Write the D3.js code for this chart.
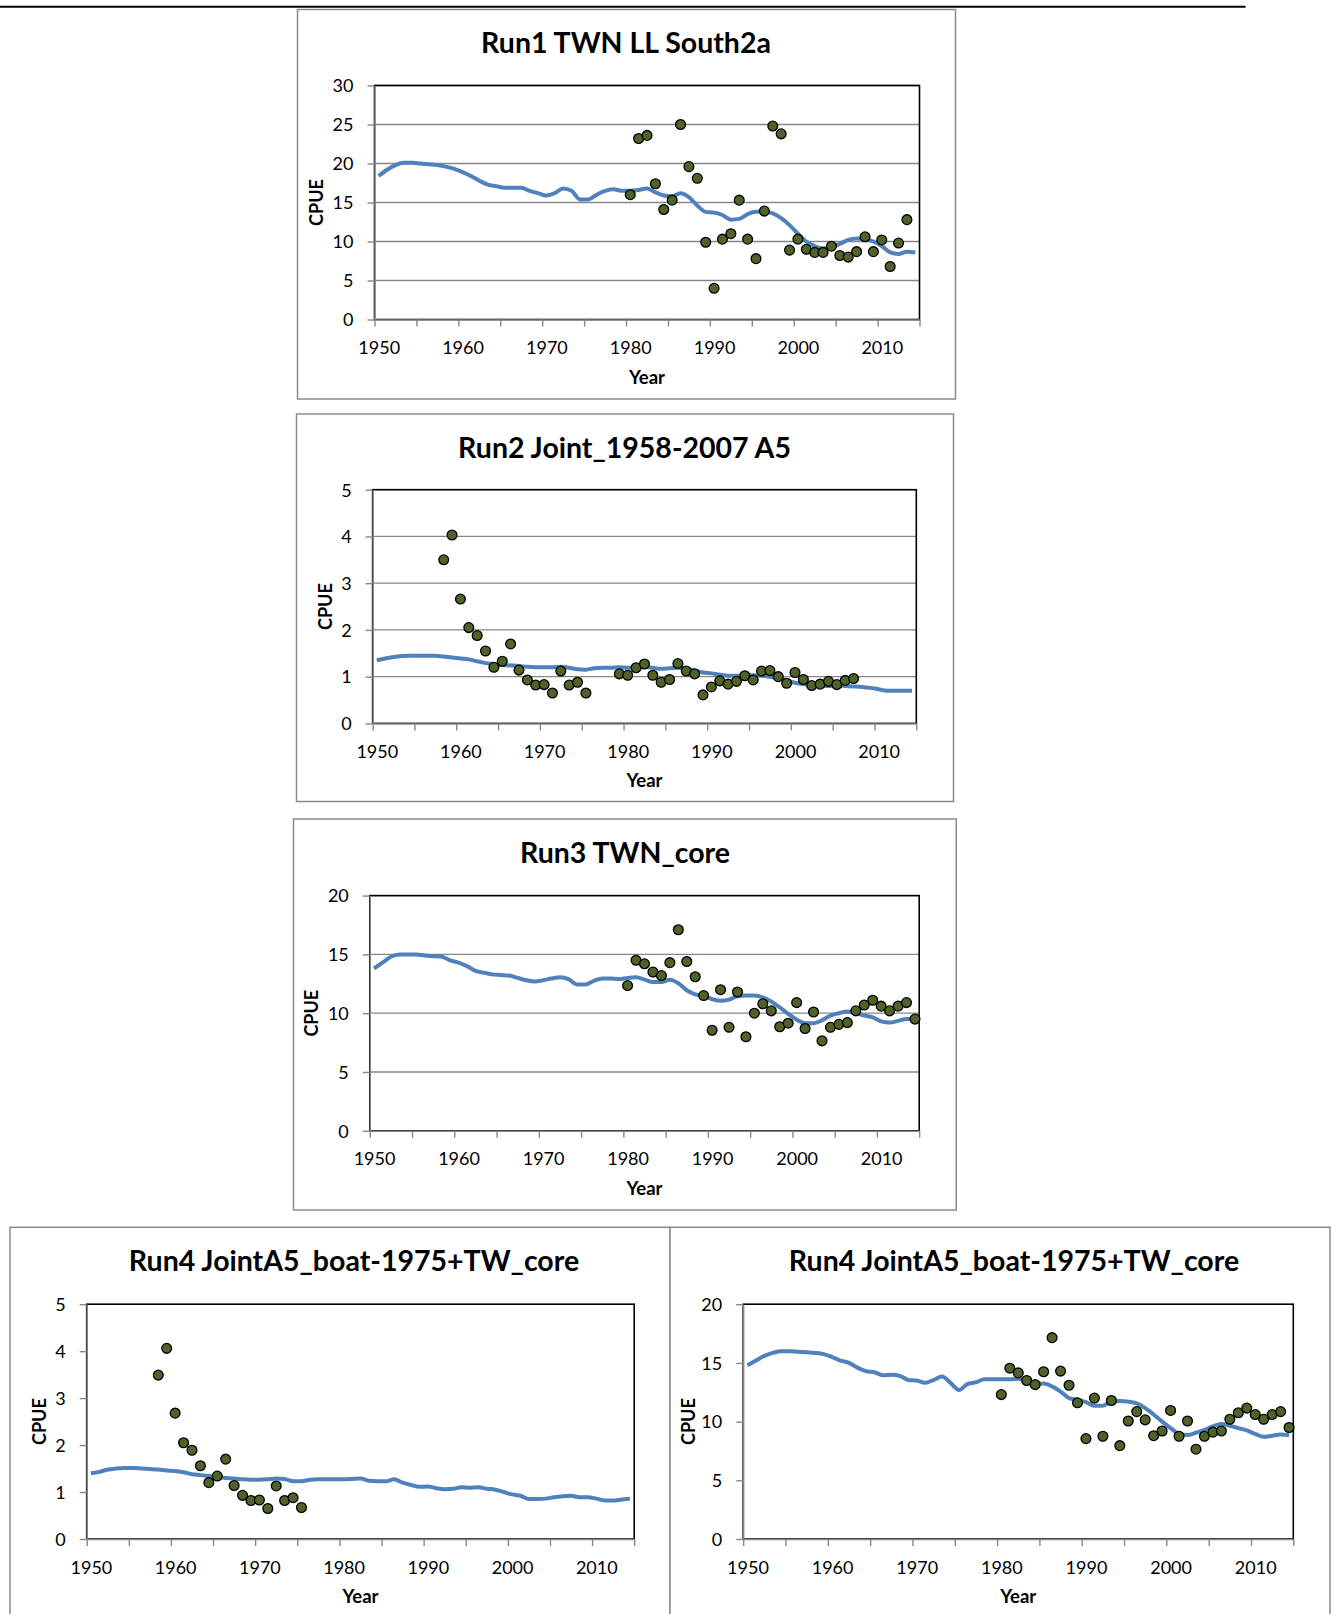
<!DOCTYPE html>
<html>
<head>
<meta charset="utf-8">
<script src="https://cdn.jsdelivr.net/npm/d3@7/dist/d3.min.js"></script>
<style>
  body { margin: 0; background: #fff; }
  svg { display: block; }
  text { font-family: Lato, "Open Sans", "DejaVu Sans", sans-serif; fill: #000; }
</style>
</head>
<body>
<div id="chart"></div>
<script>
// categories: one per year, labels every ten years
const years = d3.range(1950, 2015);
const labelYears = [1950, 1960, 1970, 1980, 1990, 2000, 2010];

// Run1 TWN LL South2a
const run1Fit = [
  18.4, 19.2, 19.8, 20.1, 20.1, 20.0, 19.9, 19.8, 19.6, 19.3,
  18.9, 18.4, 17.8, 17.3, 17.1, 16.9, 16.9, 16.9, 16.5, 16.2,
  15.9, 16.2, 16.8, 16.5, 15.4, 15.4, 16.0, 16.5, 16.7, 16.5,
  16.5, 16.6, 16.8, 16.3, 15.9, 15.8, 16.2, 15.7, 14.6, 13.8,
  13.7, 13.4, 12.8, 12.9, 13.5, 13.8, 13.8, 13.6, 13.0, 12.1,
  11.0, 10.0, 9.4, 9.1, 9.3, 9.7, 10.2, 10.4, 10.3, 10.0,
  9.4, 8.6, 8.4, 8.7, 8.6
];
const run1ObsFrom = 1980;
const run1Obs = [
  16.0, 23.2, 23.6, 17.4, 14.1, 15.3, 25.0, 19.6, 18.1, 9.9,
  4.0, 10.3, 11.0, 15.3, 10.3, 7.8, 13.9, 24.8, 23.8, 8.9,
  10.3, 9.0, 8.6, 8.6, 9.4, 8.2, 8.0, 8.7, 10.6, 8.7,
  10.2, 6.8, 9.8, 12.8
];

// Run2 Joint_1958-2007 A5
const run2Fit = [
  1.35, 1.39, 1.42, 1.44, 1.45, 1.45, 1.45, 1.45, 1.43, 1.41,
  1.39, 1.37, 1.33, 1.29, 1.27, 1.25, 1.24, 1.23, 1.21, 1.20,
  1.20, 1.20, 1.21, 1.19, 1.16, 1.15, 1.18, 1.19, 1.19, 1.20,
  1.19, 1.19, 1.21, 1.19, 1.17, 1.18, 1.19, 1.17, 1.13, 1.09,
  1.07, 1.04, 1.02, 1.02, 1.03, 1.03, 1.02, 1.00, 0.97, 0.92,
  0.87, 0.84, 0.81, 0.80, 0.80, 0.81, 0.80, 0.79, 0.78, 0.76,
  0.73, 0.70, 0.70, 0.70, 0.70
];
const jointObsFrom = 1958;
const jointObs = [
  3.50, 4.03, 2.66, 2.05, 1.88, 1.55, 1.20, 1.33, 1.70, 1.14,
  0.93, 0.82, 0.83, 0.65, 1.12, 0.82, 0.88, 0.65, null, null,
  null, 1.06, 1.03, 1.19, 1.27, 1.03, 0.88, 0.94, 1.28, 1.12,
  1.06, 0.61, 0.78, 0.91, 0.84, 0.90, 1.02, 0.93, 1.12, 1.13,
  1.00, 0.86, 1.09, 0.94, 0.81, 0.84, 0.90, 0.83, 0.92, 0.96
];

// Run3 TWN_core
const run3Fit = [
  13.8, 14.3, 14.8, 15.0, 15.0, 15.0, 14.9, 14.85, 14.8, 14.5,
  14.3, 14.0, 13.6, 13.45, 13.3, 13.25, 13.2, 13.0, 12.8, 12.7,
  12.8, 12.95, 13.05, 12.9, 12.45, 12.45, 12.75, 12.95, 12.95, 12.9,
  13.0, 13.05, 12.85, 12.65, 12.65, 12.85, 12.55, 11.95, 11.6, 11.45,
  11.2, 11.05, 11.15, 11.45, 11.5, 11.5, 11.35, 11.0, 10.5, 9.95,
  9.45, 9.15, 9.15, 9.4, 9.8, 10.0, 10.15, 10.0, 9.8, 9.65,
  9.3, 9.2, 9.35, 9.5, 9.5
];
const coreObsFrom = 1980;
const coreObs = [
  12.35, 14.5, 14.2, 13.5, 13.2, 14.3, 17.1, 14.4, 13.1, 11.5,
  8.55, 12.0, 8.8, 11.8, 8.0, 10.0, 10.8, 10.2, 8.85, 9.15,
  10.9, 8.7, 10.1, 7.65, 8.8, 9.05, 9.2, 10.2, 10.7, 11.1,
  10.6, 10.2, 10.6, 10.9, 9.5
];

// Run4 JointA5_boat-1975+TW_core (two indices)
const run4aFit = [
  1.40, 1.43, 1.48, 1.50, 1.51, 1.51, 1.50, 1.49, 1.48, 1.46,
  1.45, 1.42, 1.38, 1.36, 1.34, 1.32, 1.30, 1.29, 1.27, 1.26,
  1.26, 1.27, 1.29, 1.28, 1.23, 1.23, 1.26, 1.27, 1.27, 1.27,
  1.27, 1.28, 1.29, 1.24, 1.23, 1.23, 1.27, 1.20, 1.15, 1.11,
  1.12, 1.08, 1.06, 1.07, 1.10, 1.09, 1.10, 1.07, 1.05, 1.00,
  0.95, 0.92, 0.85, 0.85, 0.86, 0.89, 0.91, 0.92, 0.89, 0.89,
  0.86, 0.82, 0.82, 0.84, 0.86
];
const boatObsFrom = 1958;
const boatObs = [
  3.49, 4.06, 2.68, 2.05, 1.89, 1.56, 1.20, 1.34, 1.70, 1.14,
  0.93, 0.82, 0.83, 0.65, 1.13, 0.82, 0.88, 0.67
];
const run4bFit = [
  14.8, 15.2, 15.6, 15.85, 16.0, 16.0, 15.95, 15.9, 15.85, 15.75,
  15.5, 15.2, 15.0, 14.6, 14.3, 14.2, 13.95, 14.0, 13.9, 13.55,
  13.5, 13.3, 13.55, 13.85, 13.3, 12.7, 13.2, 13.35, 13.6, 13.6,
  13.6, 13.6, 13.65, 13.4, 13.2, 13.25, 13.0, 12.55, 12.0, 11.85,
  11.65, 11.35, 11.35, 11.7, 11.75, 11.7, 11.55, 11.15, 10.6, 10.0,
  9.45, 8.95, 8.85, 9.05, 9.3, 9.6, 9.8, 9.65, 9.45, 9.25,
  8.95, 8.7, 8.8, 8.9, 8.85
];
const run4bObsFrom = 1980;
const run4bObs = [
  12.3, 14.55, 14.15, 13.5, 13.15, 14.25, 17.15, 14.3, 13.1, 11.6,
  8.55, 12.0, 8.75, 11.8, 7.95, 10.05, 10.85, 10.15, 8.8, 9.2,
  10.95, 8.75, 10.05, 7.65, 8.75, 9.1, 9.2, 10.2, 10.75, 11.15,
  10.6, 10.2, 10.6, 10.85, 9.5
];

const W = 1337;
const H = 1614;
const lineColor = '#4f81bd';
const dotFill = '#4f6228';
const greyLine = '#878787';

// layout of each chart box: frame, plot area, title position
const panels = [
  {
    title: 'Run1 TWN LL South2a', fit: run1Fit, obs: run1Obs, obsFrom: run1ObsFrom,
    yMax: 30, yStep: 5, grid: true,
    frame: [297.5, 9.5, 955.5, 399], plot: [374.5, 85.5, 919.5, 319.5], titleX: 626, cpueDx: -58,
  },
  {
    title: 'Run2 Joint_1958-2007 A5', fit: run2Fit, obs: jointObs, obsFrom: jointObsFrom,
    yMax: 5, yStep: 1, grid: true,
    frame: [296.5, 414, 953.5, 801.5], plot: [372.6, 489.7, 916.3, 723.4], titleX: 624.5, cpueDx: -47,
  },
  {
    title: 'Run3 TWN_core', fit: run3Fit, obs: coreObs, obsFrom: coreObsFrom,
    yMax: 20, yStep: 5, grid: true,
    frame: [293.5, 819, 956.3, 1210], plot: [369.8, 895.6, 919.2, 1130.8], titleX: 625, cpueDx: -58,
  },
  {
    title: 'Run4 JointA5_boat-1975+TW_core', fit: run4aFit, obs: boatObs, obsFrom: boatObsFrom,
    yMax: 5, yStep: 1, grid: false,
    frame: [10, 1227.3, 670, 1630], plot: [86.7, 1304.2, 634.2, 1539], titleX: 354, cpueDx: -47,
  },
  {
    title: 'Run4 JointA5_boat-1975+TW_core', fit: run4bFit, obs: run4bObs, obsFrom: run4bObsFrom,
    yMax: 20, yStep: 5, grid: false,
    frame: [670, 1227.3, 1330, 1630], plot: [743.2, 1304.2, 1293.3, 1539], titleX: 1014, cpueDx: -55,
  },
];

const svg = d3.select('#chart').append('svg')
  .attr('width', W)
  .attr('height', H);

// rule across the top of the page
svg.append('line')
  .attr('x1', 0).attr('x2', 1245.5)
  .attr('y1', 6.7).attr('y2', 6.7)
  .style('stroke', '#000')
  .style('stroke-width', 2);

function drawPanel(p) {
  const [fx0, fy0, fx1, fy1] = p.frame;
  const [left, top, right, bottom] = p.plot;
  const g = svg.append('g');

  g.append('rect')
    .attr('x', fx0).attr('y', fy0)
    .attr('width', fx1 - fx0).attr('height', fy1 - fy0)
    .style('fill', '#fff')
    .style('stroke', '#8c8c8c')
    .style('stroke-width', 1.5);

  g.append('text')
    .text(p.title)
    .attr('x', p.titleX)
    .attr('y', fy0 + 43.5)
    .attr('text-anchor', 'middle')
    .style('font-size', '28.5px')
    .style('font-weight', 'bold');

  // categories centred on each year, ticks between every fifth year
  const x = d3.scaleLinear().domain([1949.5, 2014.5]).range([left, right]);
  const y = d3.scaleLinear().domain([0, p.yMax]).range([bottom, top]);
  const yTicks = d3.range(0, p.yMax + p.yStep / 2, p.yStep);

  if (p.grid) {
    g.selectAll('.grid')
      .data(yTicks.filter(v => v > 0))
      .enter().append('line')
      .attr('x1', left).attr('x2', right)
      .attr('y1', d => y(d)).attr('y2', d => y(d))
      .style('stroke', greyLine)
      .style('stroke-width', 1.3);
  }

  g.append('rect')
    .attr('x', left).attr('y', top)
    .attr('width', right - left).attr('height', bottom - top)
    .style('fill', 'none')
    .style('stroke', '#000')
    .style('stroke-width', 1.6);

  const yAxis = g.append('g')
    .attr('transform', `translate(${left},0)`)
    .call(d3.axisLeft(y).tickValues(yTicks).tickFormat(d3.format('d'))
      .tickSize(7).tickSizeOuter(0).tickPadding(14));
  yAxis.selectAll('text').style('font-size', '18px').attr('dy', '0.35em');

  const xTicks = g.append('g')
    .attr('transform', `translate(0,${bottom})`)
    .call(d3.axisBottom(x).tickValues(d3.range(1949.5, 2015, 5)).tickSize(7).tickSizeOuter(0).tickFormat(''));
  const xLabels = g.append('g')
    .attr('transform', `translate(0,${bottom})`)
    .call(d3.axisBottom(x).tickValues(labelYears).tickSize(0).tickFormat(d3.format('d')));
  xLabels.select('.domain').remove();
  xLabels.selectAll('text').attr('y', 34.5).attr('dy', 0).style('font-size', '18px');

  [yAxis, xTicks].forEach((ax) => {
    ax.selectAll('line, path').style('stroke', greyLine).style('stroke-width', 1.4);
  });

  g.append('text')
    .text('Year')
    .attr('x', (left + right) / 2)
    .attr('y', bottom + 64)
    .attr('text-anchor', 'middle')
    .style('font-size', '18.5px')
    .style('font-weight', 'bold');

  g.append('text')
    .text('CPUE')
    .attr('transform', `translate(${left + p.cpueDx},${(top + bottom) / 2}) rotate(-90)`)
    .attr('text-anchor', 'middle')
    .attr('dy', '0.35em')
    .style('font-size', '18px')
    .style('font-weight', 'bold');

  const fitLine = d3.line()
    .x((d, i) => x(years[i]))
    .y(d => y(d))
    .curve(d3.curveMonotoneX);

  g.append('path')
    .datum(p.fit)
    .attr('d', fitLine)
    .style('fill', 'none')
    .style('stroke', lineColor)
    .style('stroke-width', 4)
    .style('stroke-linejoin', 'round');

  const obs = p.obs
    .map((v, i) => ({ year: p.obsFrom + i, value: v }))
    .filter(d => d.value !== null);

  g.selectAll('.obs')
    .data(obs)
    .enter().append('circle')
    .attr('cx', d => x(d.year))
    .attr('cy', d => y(d.value))
    .attr('r', 4.9)
    .style('fill', dotFill)
    .style('stroke', '#000')
    .style('stroke-width', 1.3);
}

panels.forEach(drawPanel);
</script>
</body>
</html>
